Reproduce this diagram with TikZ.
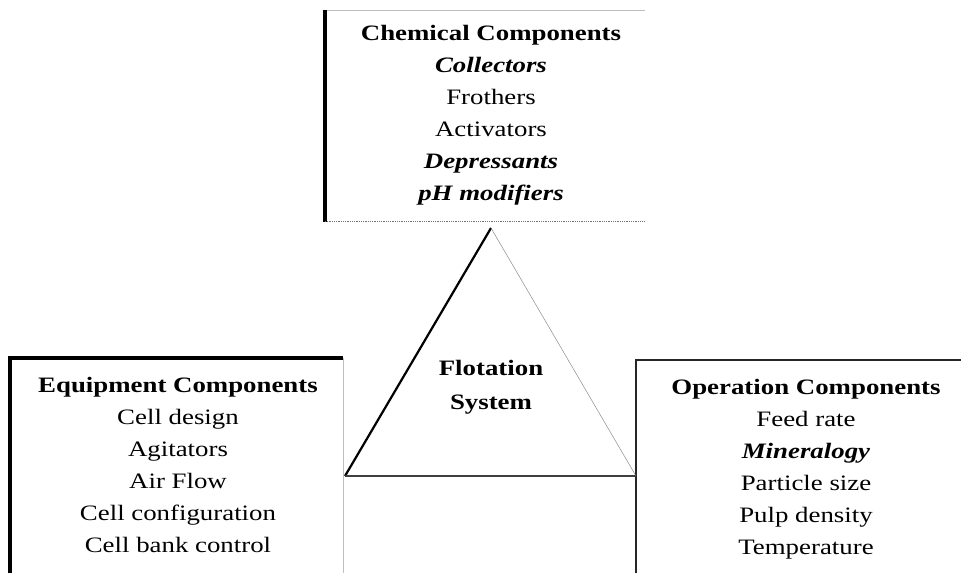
\documentclass[tikz,border=0pt]{standalone}
\usepackage{fontspec}
\setmainfont{Liberation Serif}
\usetikzlibrary{positioning}

\tikzset{
  itemlist/.style={align=center, inner sep=0pt, anchor=north, xscale=1.22, transform shape,
    font=\fontsize{22}{32}\selectfont},
  boxedge/.style={line width=2.6pt, black!85},
  faintedge/.style={line width=0.5pt, black!25}
}

\begin{document}
\begin{tikzpicture}[x=1pt, y=-1pt]
\useasboundingbox (0,0) rectangle (961,573);

% Chemical box (top)
\draw[faintedge] (325,10) -- (645,10);
\draw[boxedge, line width=3.2pt, black] (325,10) -- (325,222);
\draw[line width=0.8pt, black!55, densely dotted] (325,221) -- (645,221);
\node[itemlist] (chemical) at (491,25) {\textbf{Chemical Components}\\
  \textbf{\textit{Collectors}}\\
  Frothers\\
  Activators\\
  \textbf{\textit{Depressants}}\\
  \textbf{\textit{pH modifiers}}};

% Equipment box (left)
\draw[boxedge, line width=3.2pt, black] (10,573) -- (10,358) -- (343,358);
\draw[faintedge] (343,358) -- (343,573);
\node[itemlist] (equipment) at (178,377) {\textbf{Equipment Components}\\
  Cell design\\
  Agitators\\
  Air Flow\\
  Cell configuration\\
  Cell bank control};

% Operation box (right)
\draw[boxedge] (636,573) -- (636,360) -- (961,360);
\node[itemlist] (operation) at (806,379) {\textbf{Operation Components}\\
  Feed rate\\
  \textbf{\textit{Mineralogy}}\\
  Particle size\\
  Pulp density\\
  Temperature};

% Triangle
\coordinate (apex) at (491,228);
\coordinate (baseL) at (345,476);
\coordinate (baseR) at (636,476);
\draw[line width=2.2pt, black] (baseL) -- (apex);
\draw[line width=0.5pt, black!45] (apex) -- (baseR);
\draw[line width=2.2pt, black!75] (baseL) -- (baseR);
\node[itemlist, font=\fontsize{22}{34}\selectfont\bfseries] (flotation) at (491,360) {Flotation\\System};

\end{tikzpicture}
\end{document}
